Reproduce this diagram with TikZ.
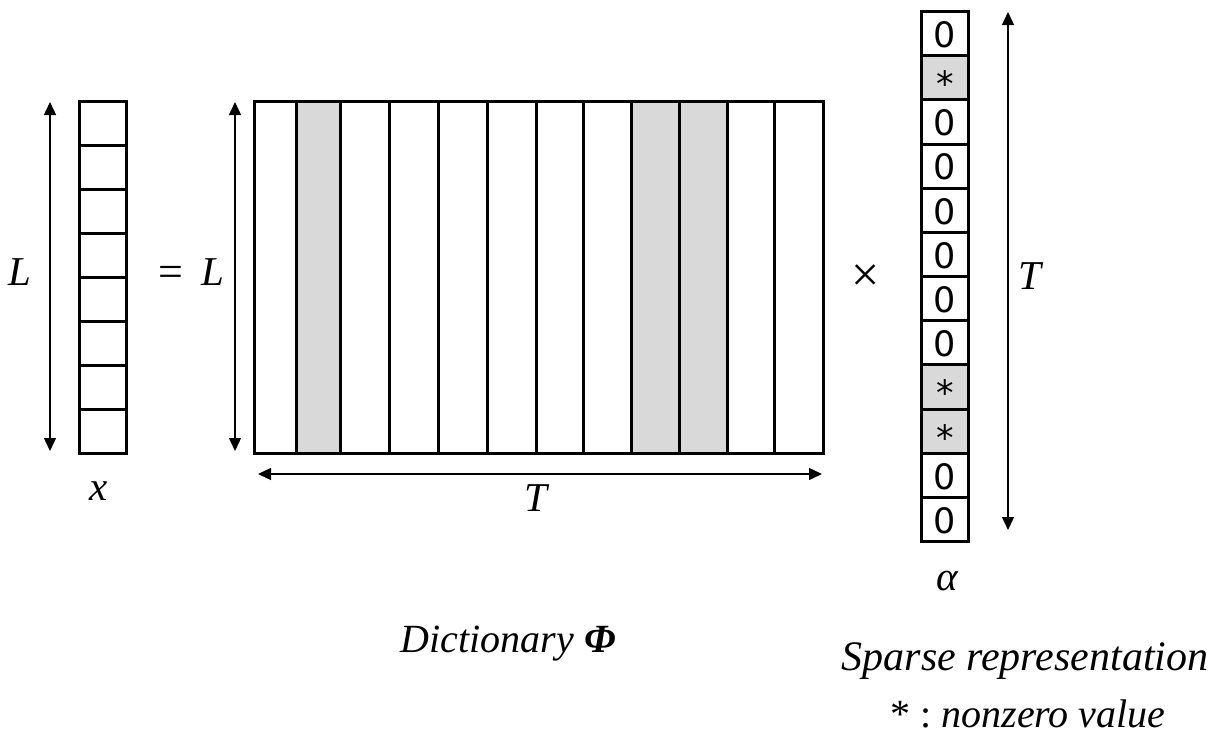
\documentclass[tikz,border=0pt]{standalone}
\usepackage{fontspec}
\setmainfont{Liberation Serif}
\newfontfamily\digfont{DejaVu Sans}
\usetikzlibrary{arrows.meta}
\definecolor{shade}{HTML}{D9D9D9}
\begin{document}
\begin{tikzpicture}[x=1pt,y=-1pt,
  cell/.style={draw, line width=3pt, inner sep=0pt, anchor=north west},
  dim/.style={line width=1.4pt, {Triangle[length=13pt,width=12pt]}-{Triangle[length=13pt,width=12pt]}},
  lab/.style={font=\fontsize{41}{44}\selectfont\itshape, inner sep=0pt, anchor=base},
  captxt/.style={font=\fontsize{40}{44}\selectfont\itshape, inner sep=0pt, anchor=base},
  dig/.style={font=\fontsize{35}{38}\digfont, inner sep=0pt}]
\useasboundingbox (0,0) rectangle (1226,744);

% vector x
\foreach \i in {0,...,7}
  \node[cell, minimum width=47pt, minimum height=44pt] (x\i) at (78,{100+44*\i}) {};

% dictionary
\foreach \a/\b [count=\k] in {253/295,295/339,339/388,388/437,437/486,486/535,535/582,582/630,630/678,678/726,726/773,773/822}{
  \pgfmathsetmacro\w{\b-\a}
  \ifnum\k=2 \def\fc{shade}\else\ifnum\k=9 \def\fc{shade}\else\ifnum\k=10 \def\fc{shade}\else\def\fc{white}\fi\fi\fi
  \node[cell, fill=\fc, minimum width=\w pt, minimum height=352pt] (d\k) at (\a,100) {};
}

% alpha vector
\foreach \s [count=\k from 0] in {0,*,0,0,0,0,0,0,*,*,0,0}{
  \if\s*\def\fc{shade}\def\dy{-6pt}\else\def\fc{white}\def\dy{-1pt}\fi
  \node[cell, fill=\fc, minimum width=47pt, minimum height=44.17pt] (a\k) at (920,{10+44.17*\k}) {};
  \node[dig] (t\k) at ([yshift=\dy]a\k.center) {\s};
}

% dimension arrows
\coordinate (xt) at (50,102); \coordinate (xb) at (50,451);
\draw[dim] (xt) -- (xb);
\coordinate (dt) at (235,102); \coordinate (db) at (235,451);
\draw[dim] (dt) -- (db);
\coordinate (dl) at (258,474); \coordinate (dr) at (822,474);
\draw[dim] (dl) -- (dr);
\coordinate (at) at (1008,12); \coordinate (ab) at (1008,530);
\draw[dim] (at) -- (ab);

% labels
\node[lab] (Lx) at (20,285) {L};
\node[font=\fontsize{44}{46}\selectfont, inner sep=0pt] (eq) at (171,276) {=};
\node[lab] (Ld) at (213,285) {L};
\node[lab] (xl) at (99,500) {x};
\node[lab] (Td) at (536,511) {T};
\node[font=\fontsize{50}{54}\selectfont, inner sep=0pt] (times) at (866,278) {×};
\node[lab] (Ta) at (1030,289) {T};
\node[lab] (al) at (947,590) {α};
\node[font=\fontsize{40}{44}\selectfont\itshape, inner sep=0pt, anchor=base east] (dict) at (616,652) {Dictionary \textbf{Φ}};
\node[font=\fontsize{42}{46}\selectfont\itshape, inner sep=0pt, anchor=base] (sparse) at (1025,670) {Sparse representation};
\node[captxt] (nz) at (1028,727) {\upshape* :\itshape\ nonzero value};
\end{tikzpicture}
\end{document}
